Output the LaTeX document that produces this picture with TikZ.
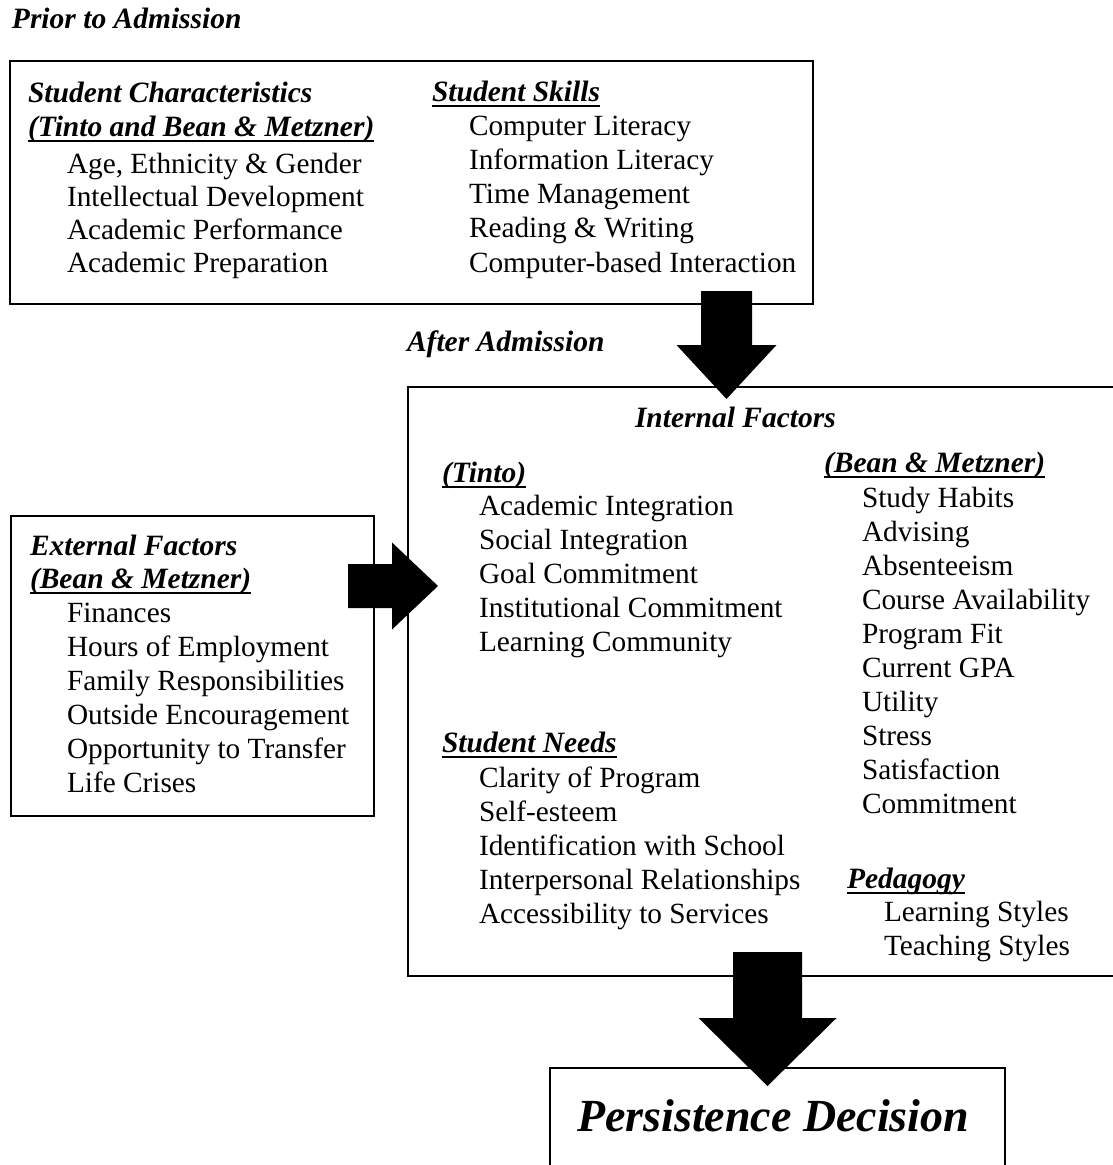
\documentclass[tikz,border=0pt]{standalone}
\usepackage{fontspec}
\setmainfont{Liberation Serif}
\newcommand{\ulx}[1]{\setbox0\hbox{#1}\rlap{\rule[-6pt]{\wd0}{2pt}}\box0}
\tikzset{
  txt/.style={anchor=base west, inner sep=0pt, outer sep=0pt, font=\fontsize{29.3}{34}\selectfont},
  hd/.style={txt, font=\fontsize{29.5}{34}\selectfont\bfseries\itshape},
  box/.style={draw, line width=2.5pt, inner sep=0pt, outer sep=0pt, anchor=north west},
  blockarrow/.style={fill=black, draw=none}
}
\begin{document}
\begin{tikzpicture}[x=1pt,y=-1pt]
\useasboundingbox (0,0) rectangle (1113,1165);
\clip (0,0) rectangle (1113,1165);
\fill[white] (0,0) rectangle (1113,1165);

% boxes
\node[box, minimum width=803pt, minimum height=243pt] (topbox) at (10,61) {};
\node[box, minimum width=722pt, minimum height=589pt] (intbox) at (408,387) {};
\node[box, minimum width=363pt, minimum height=300pt] (extbox) at (11,516) {};
\node[box, line width=2.2pt, minimum width=455pt, minimum height=120pt] (persbox) at (550,1068) {};

% section labels
\node[hd] (prior) at (12,28) {Prior to Admission};
\node[hd] (after) at (407,351) {After Admission};

% student characteristics
\node[hd] (schead) at (28,102) {Student Characteristics};
\node[hd] (scsub) at (28,136) {\ulx{(Tinto and Bean \& Metzner)}};
\foreach \t [count=\i from 0] in {{Age, Ethnicity \& Gender}, Intellectual Development, Academic Performance, Academic Preparation}
  \node[txt] (sc\i) at (67,{173+33.3*\i}) {\t};

% student skills
\node[hd] (skhead) at (432,101) {\ulx{Student Skills}};
\foreach \t [count=\i from 0] in {Computer Literacy, Information Literacy, Time Management, Reading \& Writing, Computer-based Interaction}
  \node[txt] (sk\i) at (469,{135+34.25*\i}) {\t};

% internal factors
\node[hd] (inthead) at (635,427) {Internal Factors};
\node[hd] (tinto) at (442,482) {\ulx{(Tinto)}};
\foreach \t [count=\i from 0] in {Academic Integration, Social Integration, Goal Commitment, Institutional Commitment, Learning Community}
  \node[txt] (ti\i) at (479,{515+34*\i}) {\t};
\node[hd] (bean) at (824,472) {\ulx{(Bean \& Metzner)}};
\foreach \t [count=\i from 0] in {Study Habits, Advising, Absenteeism, Course Availability, Program Fit, Current GPA, Utility, Stress, Satisfaction, Commitment}
  \node[txt] (bm\i) at (862,{507+34.1*\i}) {\t};
\node[hd] (needs) at (442,752) {\ulx{Student Needs}};
\foreach \t [count=\i from 0] in {Clarity of Program, Self-esteem, Identification with School, Interpersonal Relationships, Accessibility to Services}
  \node[txt] (sn\i) at (479,{787+34*\i}) {\t};
\node[hd] (ped) at (847,888) {\ulx{Pedagogy}};
\foreach \t [count=\i from 0] in {Learning Styles, Teaching Styles}
  \node[txt] (pd\i) at (884,{921+34*\i}) {\t};

% external factors
\node[hd] (exthead) at (30,555) {External Factors};
\node[hd] (extsub) at (30,588) {\ulx{(Bean \& Metzner)}};
\foreach \t [count=\i from 0] in {Finances, Hours of Employment, Family Responsibilities, Outside Encouragement, Opportunity to Transfer, Life Crises}
  \node[txt] (ex\i) at (67,{622+34*\i}) {\t};

% persistence decision
\node[hd, font=\fontsize{46}{50}\selectfont\bfseries\itshape] (pers) at (577,1131) {Persistence Decision};

% block arrows
\coordinate (a1s) at (726.5,291);
\coordinate (a1e) at (726.5,399);
\fill[blockarrow] (a1s) ++(-25.5,0) -- ++(51,0) -- ++(0,54) -- ++(24.5,0) -- (a1e) -- ++(-50,-54) -- ++(24.5,0) -- cycle;

\coordinate (a2s) at (348,586);
\coordinate (a2e) at (438,586);
\fill[blockarrow] (a2s) ++(0,-22) -- ++(44,0) -- ++(0,-21.5) -- (a2e) -- ++(-46,43.5) -- ++(0,-21.5) -- ++(-44,0) -- cycle;

\coordinate (a3s) at (767.5,952);
\coordinate (a3e) at (767.5,1086);
\fill[blockarrow] (a3s) ++(-34.5,0) -- ++(69,0) -- ++(0,66) -- ++(34.5,0) -- (a3e) -- ++(-69,-68) -- ++(34.5,0) -- cycle;
\end{tikzpicture}
\end{document}
